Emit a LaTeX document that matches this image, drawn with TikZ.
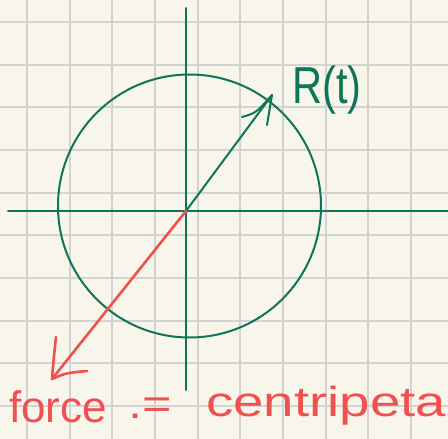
\documentclass[tikz,border=0pt]{standalone}
\usepackage{fontspec}
\newfontfamily\handfont{Liberation Sans}
\definecolor{paper}{HTML}{F8F6EB}
\definecolor{gridc}{HTML}{D3D3D3}
\definecolor{ink}{HTML}{0E7558}
\definecolor{redink}{HTML}{F05050}
\tikzset{
  gridline/.style={gridc, line width=2pt},
  greenline/.style={ink, line width=2pt, line cap=round, line join=round},
  redline/.style={redink, line width=2.6pt, line cap=round, line join=round},
  redtext/.style={redink, inner sep=0pt, anchor=base west, font=\handfont\fontsize{42}{42}\selectfont},
  greentext/.style={ink, inner sep=0pt, anchor=base west, font=\handfont\fontsize{52}{52}\selectfont}
}
\begin{document}
\begin{tikzpicture}[x=1pt,y=-1pt]
\useasboundingbox (0,0) rectangle (448,439);
\fill[paper] (0,0) rectangle (448,439);
\begin{scope}
\clip (0,0) rectangle (448,439);
\foreach \gx in {27,69.7,112.3,155,197.7,240.3,283,325.7,368.3,411} {
  \draw[gridline] (\gx,0) -- (\gx,439);
}
\foreach \gy in {22,64.7,107.3,150,192.7,235.3,278,320.7,363.3,406} {
  \draw[gridline] (0,\gy) -- (448,\gy);
}
% points
\coordinate (O) at (186,211);
\coordinate (ytop) at (186,8);
\coordinate (ybot) at (186,390);
\coordinate (xleft) at (8,211);
\coordinate (xright) at (448,211);
\coordinate (Rtip) at (272,95);
\coordinate (Rbarb1) at (242,117);
\coordinate (Rbarb2) at (267,125);
\coordinate (Ftip) at (52,379);
\coordinate (Fbarb1) at (56,337);
\coordinate (Fbarb2) at (87,371);
% axes and circle
\draw[greenline] (ytop) -- (ybot);
\draw[greenline] (xleft) -- (xright);
\draw[greenline] (189.5,206) circle[radius=131.5pt];
% R(t) vector
\draw[greenline] (O) -- (Rtip);
\draw[greenline] (Rbarb1) .. controls (256,113) .. (Rtip) -- (Rbarb2);
\node[greentext] (R) at (292,103) {\scalebox{0.8}[1]{R(t)}};
% force vector
\draw[redline] (O) -- (Ftip);
\draw[redline] (Fbarb1) .. controls (54,355) .. (Ftip) .. controls (66,373) .. (Fbarb2);
\node[redtext, font=\handfont\fontsize{44}{44}\selectfont] (force) at (9,422) {force};
\node[redtext] (eq) at (128,418) {\scalebox{1.2}[1]{.=}};
\node[redtext] (cp) at (206,416) {\scalebox{1.3}[1]{centripeta}};
\end{scope}
\end{tikzpicture}
\end{document}
